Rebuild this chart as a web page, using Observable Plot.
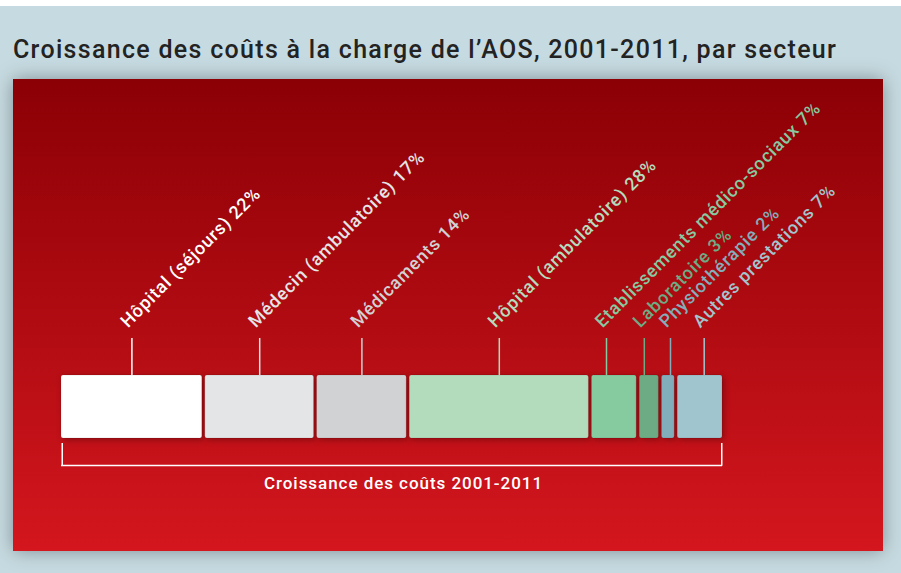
<!DOCTYPE html>
<html>
<head>
<meta charset="utf-8">
<script src="https://cdn.jsdelivr.net/npm/d3@7"></script>
<script src="https://cdn.jsdelivr.net/npm/@observablehq/plot@0.6"></script>
<style>
  html, body { margin: 0; padding: 0; }
  body { width: 901px; height: 573px; overflow: hidden; background: #c6dbe1; position: relative; }
  #strip { position: absolute; left: 0; top: 0; width: 901px; height: 6px; background: #ffffff; }
  #title { position: absolute; left: 13px; top: 35px; font-family: Roboto, sans-serif; font-weight: 500;
           font-size: 25px; letter-spacing: 1.3px; color: #232323; white-space: nowrap; }
  #panel { position: absolute; left: 13px; top: 79px; width: 870px; height: 472px;
           background: linear-gradient(to bottom, #8b0005 0%, #d4161e 100%);
           box-shadow: 0 0 18px rgba(0,0,0,0.35); }
  #panel svg { overflow: visible; }
  #panel svg g[aria-label="text"] text { letter-spacing: 0.8px; }
  #panel svg g.caption text { letter-spacing: 0.95px; }
</style>
</head>
<body>
<div id="strip"></div>
<div id="title">Croissance des coûts à la charge de l’AOS, 2001-2011, par secteur</div>
<div id="panel"></div>
<script>
const sectors = ["Hôpital (séjours)", "Médecin (ambulatoire)", "Médicaments", "Hôpital (ambulatoire)",
                 "Etablissements médico-sociaux", "Laboratoire", "Physiothérapie", "Autres prestations"];
const shares = [22, 17, 14, 28, 7, 3, 2, 7];
const sectorColors = ["#ffffff", "#e4e5e7", "#d1d2d4", "#b3dcbd", "#86caa0", "#6cab84", "#82aebb", "#a1c5ce"];
const caption = "Croissance des coûts 2001-2011";

// layout (pixels): gap between segments and nudges of the leader lines of the small sectors
const GAP = 3;
const leaderNudge = [0, 0, 0, 0, -7.8, -5, 2.2, 4.1];

let acc = 0;
const rows = sectors.map((s, i) => {
  const r = {sector: s, share: shares[i], color: sectorColors[i], x1: acc, x2: acc + shares[i], mid: acc + shares[i] / 2, i};
  acc += shares[i];
  return r;
});

const FONT = 'Roboto, sans-serif';

const marks = [
  ...rows.map(d => Plot.rect([d], {x1: "x1", x2: "x2", y1: 0, y2: 63, fill: "color", rx: 2, dx: GAP * d.i,
                   stroke: "rgba(0,0,0,0.12)", strokeWidth: 0.8})),
  ...rows.map(d => Plot.ruleX([d], {x: "mid", y1: 63, y2: 100, stroke: d.color, strokeWidth: 1.5,
                                     dx: GAP * d.i + leaderNudge[d.i]})),
  ...rows.map(d => Plot.text([d], {x: "mid", y: 110, text: r => `${r.sector} ${r.share}%`, rotate: -45,
                                    textAnchor: "start", lineAnchor: "bottom", fill: d.color, fontSize: 18,
                                    fontWeight: 500, fontFamily: FONT, dx: GAP * d.i + leaderNudge[d.i] - 4})),
  Plot.ruleY([-27], {x1: 0, x2: 100, stroke: "white", strokeWidth: 1.5, insetRight: -GAP * (rows.length - 1)}),
  Plot.ruleX([0], {y1: -5, y2: -27.7, stroke: "white", strokeWidth: 1.5, dx: 0.75}),
  Plot.ruleX([100], {y1: -5, y2: -27.7, stroke: "white", strokeWidth: 1.5, dx: GAP * (rows.length - 1) - 0.75}),
  Plot.text([caption], {x: 50, y: -45, text: d => d, fill: "white", fontSize: 17, fontWeight: 500,
                        fontFamily: FONT, dx: 22, className: "caption"})
];

const chart = Plot.plot({
  width: 870,
  height: 472,
  margin: 0,
  x: {domain: [0, 100], range: [48, 688], axis: null},
  y: {domain: [0, 63], range: [359, 296], axis: null},
  color: {type: "identity"},
  style: {background: "transparent", overflow: "visible"},
  marks
});
chart.querySelectorAll('g[aria-label="rect"]').forEach(g => g.style.filter = "drop-shadow(2px 2px 3px rgba(0,0,0,0.3))");
const texts = chart.querySelectorAll('g[aria-label="text"]');
texts[texts.length - 1].classList.add("caption");
document.getElementById("panel").appendChild(chart);
</script>
</body>
</html>
